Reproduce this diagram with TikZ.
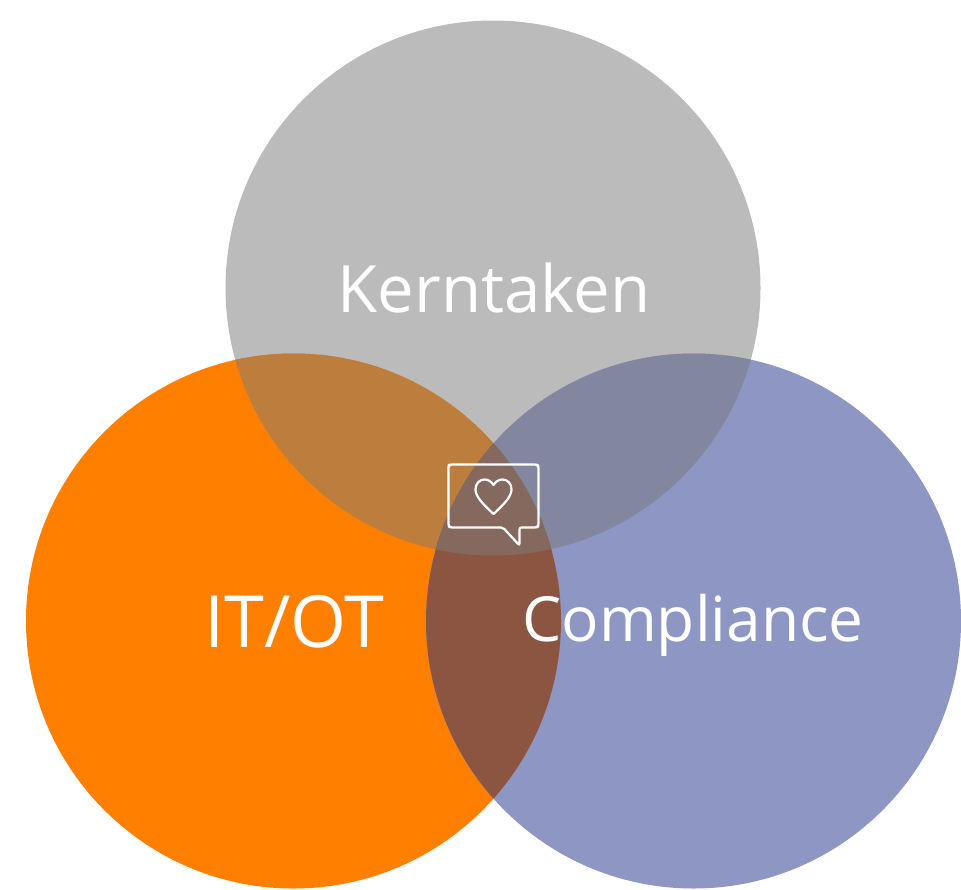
\documentclass[tikz,border=0pt]{standalone}
\usepackage{fontspec}
\setmainfont{Open Sans}
\definecolor{cgray}{HTML}{BBBBBB}
\definecolor{corange}{HTML}{FF7F00}
\definecolor{cblue}{HTML}{8E96C4}
\definecolor{cgo}{HTML}{BD7D3D}
\definecolor{cgb}{HTML}{82879F}
\definecolor{cob}{HTML}{8C5541}
\definecolor{call}{HTML}{85695F}
\tikzset{
  vennlabel/.style={text=white,inner sep=0pt,anchor=base},
  iconline/.style={draw=white,line width=2.2pt,line join=round,line cap=round},
}
\def\cg{(493,288) circle[radius=267.5]}
\def\co{(293.5,621) circle[radius=267.5]}
\def\cb{(693.5,621) circle[radius=267.5]}
\begin{document}
\begin{tikzpicture}[x=1pt,y=-1pt]
\useasboundingbox (0,0) rectangle (961,889);
\fill[white] (0,0) rectangle (961,889);
\fill[cgray] \cg;
\fill[corange] \co;
\fill[cblue] \cb;
\begin{scope}\clip \cg; \fill[cgo] \co; \fill[cgb] \cb; \end{scope}
\begin{scope}\clip \co; \fill[cob] \cb; \end{scope}
\begin{scope}\clip \cg; \clip \co; \fill[call] \cb; \end{scope}
\node[vennlabel,font=\fontsize{65.3}{65}\selectfont] (kern) at (494,312) {Kerntaken};
\node[vennlabel,font=\fontsize{72}{72}\selectfont] (itot) at (294.5,647) {IT/OT};
\node[vennlabel,font=\fontsize{62.2}{62}\selectfont] (comp) at (693,641) {Compliance};
\draw[iconline,rounded corners=2pt] (503,527.5) -- (450,527.5) -- (448.5,526) -- (448.5,465.5) -- (450,464.5) -- (537,464.5) -- (538.5,466) -- (538.5,526) -- (537,527.5) -- (519.5,527.5) -- (519.5,545.5) -- cycle;
\draw[iconline] (493.5,514) .. controls (484,505) and (475.5,497) .. (475.5,489.5)
  .. controls (475.5,483) and (480,479.5) .. (484.5,479.5)
  .. controls (488,479.5) and (491.5,481.5) .. (493.5,485)
  .. controls (495.5,481.5) and (499,479.5) .. (502.5,479.5)
  .. controls (507,479.5) and (511.5,483) .. (511.5,489.5)
  .. controls (511.5,497) and (503,505) .. cycle;
\end{tikzpicture}
\end{document}
